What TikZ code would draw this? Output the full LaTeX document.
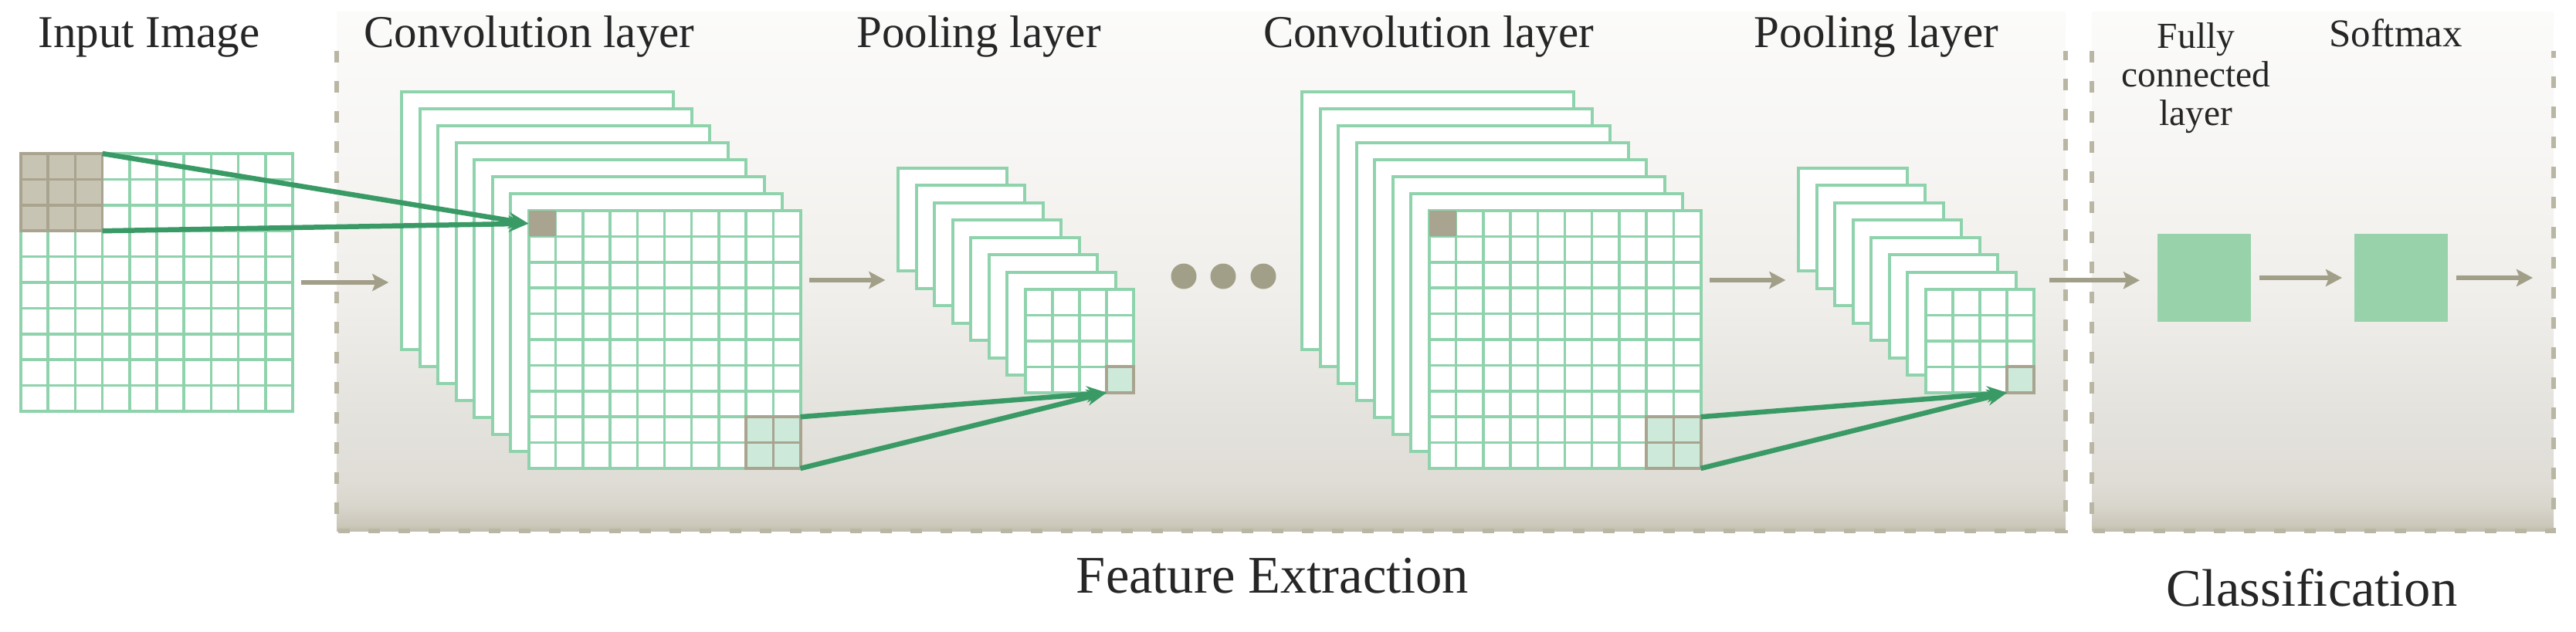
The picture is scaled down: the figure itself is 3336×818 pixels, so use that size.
\documentclass[tikz,border=0pt]{standalone}
\usepackage{fontspec}
\setmainfont{Liberation Serif}
\usepackage{xcolor}
\usepackage{tikz}
\usetikzlibrary{arrows.meta,positioning,fit,calc}

\definecolor{gridgreen}{HTML}{8FD3AC}
\definecolor{linkgreen}{HTML}{3A9A66}
\definecolor{taupe}{HTML}{A8A48F}
\definecolor{flowgray}{HTML}{A29F89}
\definecolor{blockgray}{HTML}{C7C4B4}
\definecolor{mint}{HTML}{CDE9D9}
\definecolor{fcgreen}{HTML}{98D2AB}
\definecolor{dashgray}{HTML}{BAB6A4}
\definecolor{stB}{HTML}{C2BEAD}
\definecolor{stBb}{HTML}{CBC7BA}
\definecolor{stMa}{HTML}{D9D6CD}
\definecolor{stMb}{HTML}{DFDDD6}
\definecolor{stMc}{HTML}{E5E3DE}
\definecolor{stMd}{HTML}{EFEEEA}
\definecolor{stTa}{HTML}{F7F6F4}
\definecolor{stT}{HTML}{FBFBFA}

\pgfdeclareverticalshading{stageshade}{100bp}{color(0bp)=(stB); color(25bp)=(stB);
  color(25.6bp)=(stBb); color(27.5bp)=(stMa); color(30bp)=(stMb); color(37bp)=(stMc);
  color(47bp)=(stMd); color(62bp)=(stTa); color(75bp)=(stT); color(100bp)=(stT)}

\tikzset{
  stage/.style    ={shading=stageshade, minimum height=67.3mm, inner sep=0pt, outer sep=0pt},
  stageedge/.style={draw=dashgray, line width=0.6mm, dash pattern=on 1.5mm off 2.4mm},
  fmap/.style     ={draw=gridgreen, line width=0.4mm, fill=white, inner sep=0pt, outer sep=0pt},
  bigmap/.style   ={fmap, minimum width=35.2mm, minimum height=33.4mm},
  smallmap/.style ={fmap, minimum width=14.08mm, minimum height=13.36mm},
  gridln/.style   ={draw=gridgreen, line width=0.35mm},
  taupeln/.style  ={draw=taupe, line width=0.35mm},
  blockcell/.style={fill=blockgray, draw=taupe, line width=0.35mm, inner sep=0pt, outer sep=0pt},
  kcell/.style    ={fill=taupe, inner sep=0pt, outer sep=0pt, minimum width=3.52mm, minimum height=3.34mm},
  pcell/.style    ={fill=mint, draw=taupe, line width=0.4mm, inner sep=0pt, outer sep=0pt},
  dense/.style    ={fill=fcgreen, inner sep=0pt, outer sep=0pt, minimum width=12.1mm, minimum height=11.4mm},
  dot/.style      ={circle, fill=flowgray, inner sep=0pt, minimum size=3.3mm},
  link/.style     ={-{Stealth[length=2.6mm, width=2.1mm]}, line width=0.65mm, draw=linkgreen},
  flow/.style     ={-{Stealth[length=2.1mm, width=2.2mm, inset=0.4mm]}, line width=0.6mm, draw=flowgray,
                    shorten <=1.1mm, shorten >=1.6mm},
  ttl/.style      ={font=\fontsize{16.8}{20}\selectfont, text=black!85, anchor=base, inner sep=0pt},
  fctxt/.style    ={font=\fontsize{13.5}{14.2}\selectfont, text=black!85, align=center, anchor=base, inner sep=0pt},
  smtxt/.style    ={font=\fontsize{14.5}{17}\selectfont, text=black!85, anchor=base, inner sep=0pt},
  stagetxt/.style ={font=\fontsize{19.5}{23}\selectfont, text=black!85, anchor=base, inner sep=0pt},
}

\begin{document}
\begin{tikzpicture}[x=0.1mm, y=-0.1mm]
  \useasboundingbox (0,0) rectangle (3336,818);

  % ---- the two stage panels ----
  \node[stage, minimum width=223.9mm] (fe) at (1555.5,351.5) {};
  \node[stage, minimum width=59.8mm] (cls) at (3008,351.5) {};
  \draw[stageedge] ($(fe.north west)+(0,51)$) -- (fe.south west) -- (fe.south east) -- ($(fe.north east)+(0,51)$);
  \draw[stageedge] ($(cls.north west)+(0,51)$) -- (cls.south west) -- (cls.south east) -- ($(cls.north east)+(0,51)$);

  % ---- input image ----
  \node[bigmap] (inp) at (203,366) {};

  % ---- convolution / pooling stacks ----
  \coordinate (c1c) at (860.5,440);
  \foreach \k in {7,...,1}
    \node[bigmap] (c1f\k) at ($(c1c)+(-23.5*\k,-22*\k)$) {};
  \node[bigmap] (c1) at (c1c) {};
  \node[fit=(c1f7)(c1), inner sep=0pt] (c1s) {};

  \coordinate (p1c) at (1398,442);
  \foreach \k in {7,...,1}
    \node[smallmap] (p1f\k) at ($(p1c)+(-23.5*\k,-22.5*\k)$) {};
  \node[smallmap] (p1) at (p1c) {};
  \node[fit=(p1f7)(p1), inner sep=0pt] (p1s) {};

  \coordinate (c2c) at (2026.5,440);
  \foreach \k in {7,...,1}
    \node[bigmap] (c2f\k) at ($(c2c)+(-23.5*\k,-22*\k)$) {};
  \node[bigmap] (c2) at (c2c) {};
  \node[fit=(c2f7)(c2), inner sep=0pt] (c2s) {};

  \coordinate (p2c) at (2564,442);
  \foreach \k in {7,...,1}
    \node[smallmap] (p2f\k) at ($(p2c)+(-23.5*\k,-22.5*\k)$) {};
  \node[smallmap] (p2) at (p2c) {};
  \node[fit=(p2f7)(p2), inner sep=0pt] (p2s) {};

  % grid cells of the front maps
  \foreach \m/\n in {inp/10,c1/10,c2/10,p1/4,p2/4} {
    \pgfmathtruncatemacro{\last}{\n-1}
    \foreach \i in {1,...,\last} {
      \draw[gridln] ($(\m.north west)!\i/\n!(\m.north east)$) -- ($(\m.south west)!\i/\n!(\m.south east)$);
      \draw[gridln] ($(\m.north west)!\i/\n!(\m.south west)$) -- ($(\m.north east)!\i/\n!(\m.south east)$);
    }
  }

  % ---- receptive fields ----
  \node[blockcell, minimum width=10.56mm, minimum height=10.02mm] (inb) at ($(inp.north west)+(52.8,50.1)$) {};
  \foreach \i in {1,2} {
    \draw[taupeln] ($(inb.north west)!\i/3!(inb.north east)$) -- ($(inb.south west)!\i/3!(inb.south east)$);
    \draw[taupeln] ($(inb.north west)!\i/3!(inb.south west)$) -- ($(inb.north east)!\i/3!(inb.south east)$);
  }
  \node[kcell] (c1k) at ($(c1.north west)+(17.6,16.7)$) {};
  \node[kcell] (c2k) at ($(c2.north west)+(17.6,16.7)$) {};
  \node[pcell, minimum width=7.04mm, minimum height=6.68mm] (c1w) at ($(c1.south east)+(-35.2,-33.4)$) {};
  \node[pcell, minimum width=7.04mm, minimum height=6.68mm] (c2w) at ($(c2.south east)+(-35.2,-33.4)$) {};
  \draw[taupeln] (c1w.north) -- (c1w.south) (c1w.west) -- (c1w.east);
  \draw[taupeln] (c2w.north) -- (c2w.south) (c2w.west) -- (c2w.east);
  \node[pcell, minimum width=3.52mm, minimum height=3.34mm] (p1o) at ($(p1.south east)+(-17.6,-16.7)$) {};
  \node[pcell, minimum width=3.52mm, minimum height=3.34mm] (p2o) at ($(p2.south east)+(-17.6,-16.7)$) {};

  \draw[link] (inb.north east) -- (c1k.west);
  \draw[link] (inb.south east) -- (c1k.west);
  \draw[link] (c1w.north east) -- (p1o.south west);
  \draw[link] (c1w.south east) -- (p1o.south west);
  \draw[link] (c2w.north east) -- (p2o.south west);
  \draw[link] (c2w.south east) -- (p2o.south west);

  % ---- ellipsis ----
  \node[dot] (d1) at (1533,358) {};
  \node[dot] (d2) at (1584,358) {};
  \node[dot] (d3) at (1636,358) {};

  % ---- classification ----
  \node[dense] (fc) at (2854.5,360) {};
  \node[dense, right=13.4mm of fc] (sm) {};
  \coordinate[right=12.6mm of sm] (out);

  \draw[flow] (inp) -- (inp -| c1s.west);
  \draw[flow] (c1s) -- (c1s -| p1s.west);
  \draw[flow] (c2s) -- (c2s -| p2s.west);
  \draw[flow, shorten <=1.9mm, shorten >=2.3mm] (p2s) -- (p2s -| fc.west);
  \draw[flow] (fc) -- (sm);
  \draw[flow] (sm) -- (out);

  % ---- labels ----
  \node[ttl] (tin) at (193,61) {Input Image};
  \node[ttl] (tc1) at (685.5,61) {Convolution layer};
  \node[ttl] (tp1) at (1267.5,61) {Pooling layer};
  \node[ttl] (tc2) at (1850,61) {Convolution layer};
  \node[ttl] (tp2) at (2430,61) {Pooling layer};
  \node[fctxt] (tfc) at (2844,162) {Fully\\connected\\layer};
  \node[smtxt] (tsm) at (3102.5,60) {Softmax};
  \node[stagetxt] (tfe) at (1648,768) {Feature Extraction};
  \node[stagetxt] (tcls) at (2994,785) {Classification};
\end{tikzpicture}
\end{document}
